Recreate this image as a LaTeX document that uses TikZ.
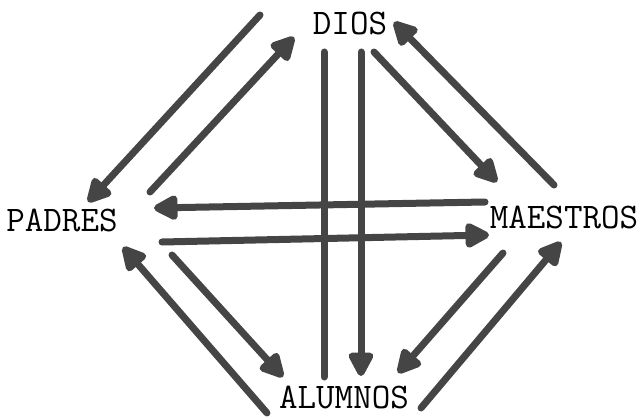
\documentclass[tikz,border=0pt]{standalone}
\usepackage{fontspec}
\usetikzlibrary{arrows.meta}
\definecolor{ink}{HTML}{454545}
\begin{document}
\begin{tikzpicture}[x=1pt,y=-1pt,
  conn/.style={draw=ink, line width=7pt, line cap=round},
  arr/.style={conn, -{Triangle[length=28pt,width=27pt,round]}},
  lbl/.style={font=\ttfamily\fontsize{36}{36}\selectfont, inner sep=0pt, text=black}]
\useasboundingbox (0,0) rectangle (642,417);
\node[lbl] (dios) at (350,24) {DIOS};
\node[lbl] (padres) at (62,220) {PADRES};
\node[lbl] (maestros) at (564,217) {MAESTROS};
\node[lbl] (alumnos) at (344,397) {ALUMNOS};
% endpoints
\coordinate (a1t) at (260,15);  \coordinate (a1h) at (88,202);
\coordinate (a2t) at (150,192); \coordinate (a2h) at (294,37);
\coordinate (v1t) at (324,52);  \coordinate (v1b) at (324,377);
\coordinate (v2t) at (361,52);  \coordinate (v2h) at (361,376);
\coordinate (a4t) at (374,52);  \coordinate (a4h) at (497,182);
\coordinate (a5t) at (554,185); \coordinate (a5h) at (394,22);
\coordinate (h1t) at (485,202); \coordinate (h1h) at (154,208);
\coordinate (h2t) at (162,242); \coordinate (h2h) at (489,235);
\coordinate (a8t) at (172,255); \coordinate (a8h) at (283,377);
\coordinate (a9t) at (267,413); \coordinate (a9h) at (123,247);
\coordinate (a10t) at (503,253); \coordinate (a10h) at (398,373);
\coordinate (a11t) at (421,408); \coordinate (a11h) at (561,242);
% connectors
\draw[arr] (a1t) -- (a1h);
\draw[arr] (a2t) -- (a2h);
\draw[conn] (v1t) -- (v1b);
\draw[arr] (v2t) -- (v2h);
\draw[arr] (a4t) -- (a4h);
\draw[arr] (a5t) -- (a5h);
\draw[arr] (h1t) -- (h1h);
\draw[arr] (h2t) -- (h2h);
\draw[arr] (a8t) -- (a8h);
\draw[arr] (a9t) -- (a9h);
\draw[arr] (a10t) -- (a10h);
\draw[arr] (a11t) -- (a11h);
\end{tikzpicture}
\end{document}
